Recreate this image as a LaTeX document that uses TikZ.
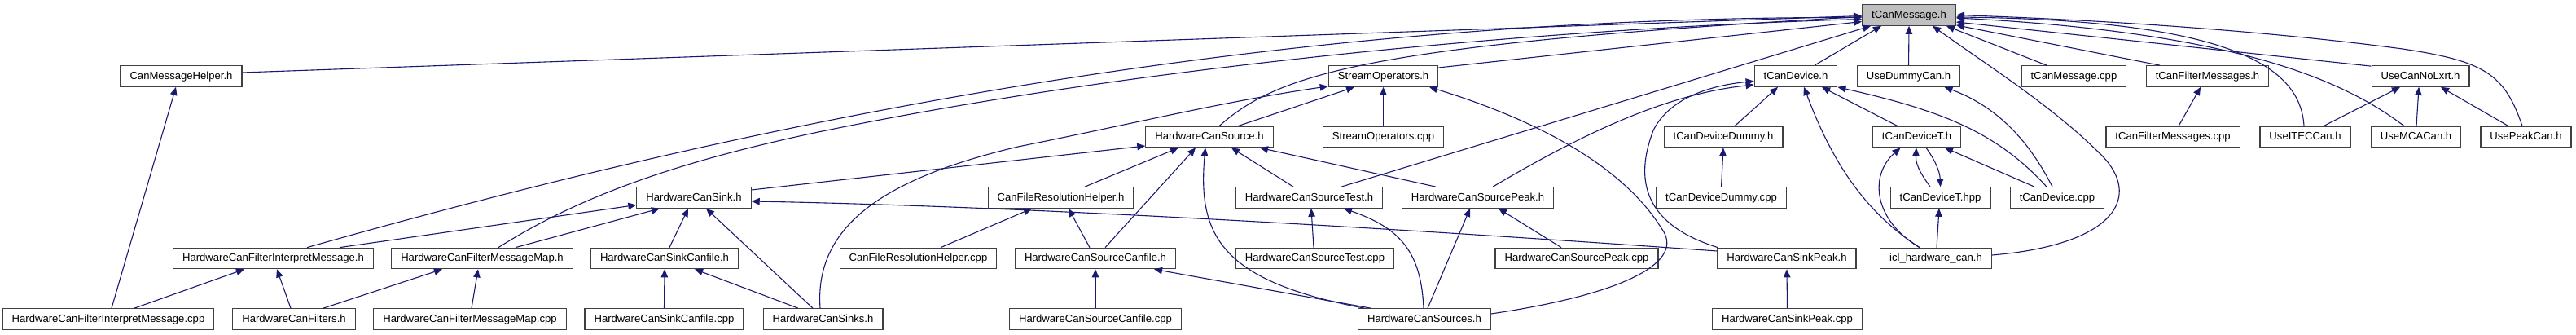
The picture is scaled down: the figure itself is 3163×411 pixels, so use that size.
\documentclass[tikz,border=0pt]{standalone}
\usepackage{fontspec}
\setmainfont{Liberation Sans}
\usetikzlibrary{arrows.meta}
\definecolor{edgeblue}{HTML}{191970}
\definecolor{rootgrey}{HTML}{BFBFBF}
\tikzset{
  file/.style={draw=black!75, line width=1.2pt, fill=white, inner xsep=11.5pt, inner ysep=0pt,
    minimum height=25.5pt, text height=10pt, text depth=2pt, font=\fontsize{13.1}{15}\selectfont},
  incl/.style={draw=edgeblue, line width=1.1pt, -{Triangle[length=10pt,width=8.5pt]}}
}
\begin{document}
\begin{tikzpicture}[x=1pt, y=-1pt]
\useasboundingbox (0,0) rectangle (3163,411);

\node[file, fill=rootgrey] (tcanmessage) at (2344,18.5) {tCanMessage.h};

\node[file] (canmsghelper) at (222.5,93.5) {CanMessageHelper.h};
\node[file] (streamops) at (1698.5,93.5) {StreamOperators.h};
\node[file] (tcandevice) at (2205,93.5) {tCanDevice.h};
\node[file] (usedummy) at (2343.5,93.5) {UseDummyCan.h};
\node[file] (tcanmsgcpp) at (2546.5,93.5) {tCanMessage.cpp};
\node[file] (filtermsgs) at (2710.5,93.5) {tCanFilterMessages.h};
\node[file] (usenolxrt) at (2972,93.5) {UseCanNoLxrt.h};

\node[file] (hwsource) at (1485,168) {HardwareCanSource.h};
\node[file] (streamopscpp) at (1698.5,168) {StreamOperators.cpp};
\node[file] (devdummy) at (2116,168) {tCanDeviceDummy.h};
\node[file] (devicet) at (2353.5,168) {tCanDeviceT.h};
\node[file] (filtermsgscpp) at (2668,168) {tCanFilterMessages.cpp};
\node[file] (useitec) at (2830.5,168) {UseITECCan.h};
\node[file] (usemca) at (2966.5,168) {UseMCACan.h};
\node[file] (usepeak) at (3101.5,168) {UsePeakCan.h};

\node[file] (hwsink) at (852,242.5) {HardwareCanSink.h};
\node[file] (fileres) at (1302.5,242.5) {CanFileResolutionHelper.h};
\node[file] (sourcetest) at (1607.5,242.5) {HardwareCanSourceTest.h};
\node[file] (sourcepeak) at (1814.5,242.5) {HardwareCanSourcePeak.h};
\node[file] (devdummycpp) at (2113.5,242.5) {tCanDeviceDummy.cpp};
\node[file] (devicethpp) at (2382.5,242.5) {tCanDeviceT.hpp};
\node[file] (devicecpp) at (2526,242.5) {tCanDevice.cpp};

\node[file] (filterinterp) at (335.5,317) {HardwareCanFilterInterpretMessage.h};
\node[file] (filtermap) at (592,317) {HardwareCanFilterMessageMap.h};
\node[file] (sinkcanfile) at (816,317) {HardwareCanSinkCanfile.h};
\node[file] (filerescpp) at (1127.5,317) {CanFileResolutionHelper.cpp};
\node[file] (sourcecanfile) at (1345,317) {HardwareCanSourceCanfile.h};
\node[file] (sourcetestcpp) at (1614.5,317) {HardwareCanSourceTest.cpp};
\node[file] (sourcepeakcpp) at (1936,317) {HardwareCanSourcePeak.cpp};
\node[file] (sinkpeak) at (2194,317) {HardwareCanSinkPeak.h};
\node[file] (iclcan) at (2377,317) {icl\_hardware\_can.h};

\node[file] (filterinterpcpp) at (133,391.5) {HardwareCanFilterInterpretMessage.cpp};
\node[file] (filters) at (361,391.5) {HardwareCanFilters.h};
\node[file] (filtermapcpp) at (577,391.5) {HardwareCanFilterMessageMap.cpp};
\node[file] (sinkcanfilecpp) at (815.5,391.5) {HardwareCanSinkCanfile.cpp};
\node[file] (sinks) at (1010.5,391.5) {HardwareCanSinks.h};
\node[file] (sourcecanfilecpp) at (1345,391.5) {HardwareCanSourceCanfile.cpp};
\node[file] (sources) at (1749,391.5) {HardwareCanSources.h};
\node[file] (sinkpeakcpp) at (2194.5,391.5) {HardwareCanSinkPeak.cpp};

% includes of tCanMessage.h
\draw[incl] ([yshift=4.5pt]canmsghelper.east) -- ([yshift=-1pt]tcanmessage.west);
\draw[incl] ([xshift=41.5pt]filterinterp.north) .. controls (850,170) and (1500,20) .. ([yshift=-3pt]tcanmessage.west);
\draw[incl] ([xshift=20pt]filtermap.north) .. controls (720,235) and (850,195) .. (1000,163) .. controls (1400,80) and (1900,35) .. ([yshift=-5pt]tcanmessage.west);
\draw[incl] ([xshift=12pt]hwsource.north) .. controls (1570,90) and (1680,55) .. ([yshift=-2pt]tcanmessage.west);
\draw[incl] ([yshift=10.5pt]streamops.east) -- ([yshift=-8pt]tcanmessage.west);
\draw[incl] ([xshift=39.5pt]sourcetest.north) -- ([xshift=-47pt]tcanmessage.south);
\draw[incl] ([xshift=23pt]tcandevice.north) -- ([xshift=-34pt]tcanmessage.south);
\draw[incl] (usedummy.north) -- (tcanmessage.south);
\draw[incl] ([xshift=-33.5pt]tcanmsgcpp.north) -- ([xshift=46pt]tcanmessage.south);
\draw[incl] ([xshift=-58.5pt]filtermsgs.north) -- ([yshift=1pt]tcanmessage.south east);
\draw[incl] ([yshift=-1pt]usenolxrt.north west) -- ([yshift=-8.5pt]tcanmessage.east);
\draw[incl] ([xshift=-1.5pt]useitec.north) .. controls (2825,90) and (2760,25) .. ([yshift=-2.5pt]tcanmessage.east);
\draw[incl] ([xshift=-14.5pt]usemca.north) .. controls (2880,100) and (2750,40) .. ([yshift=-3.5pt]tcanmessage.east);
\draw[incl] ([xshift=-4.5pt]usepeak.north) .. controls (3075,90) and (3050,75) .. (2950,60) .. controls (2800,40) and (2600,25) .. (tcanmessage.east);
\draw[incl] ([yshift=4pt]iclcan.east) .. controls (2600,300) and (2630,240) .. (2580,190) .. controls (2520,130) and (2440,80) .. ([xshift=29pt]tcanmessage.south);

% left part
\draw[incl] ([xshift=4pt]filterinterpcpp.north) -- ([xshift=-6.5pt]canmsghelper.south);
\draw[incl] ([xshift=32pt]filterinterpcpp.north) -- ([xshift=-35.5pt]filterinterp.south);
\draw[incl] ([xshift=-4pt]filters.north) -- ([xshift=4.5pt]filterinterp.south);
\draw[incl] ([xshift=36pt]filters.north) -- ([xshift=-49pt]filtermap.south);
\draw[incl] ([xshift=2pt]filtermapcpp.north) -- ([xshift=-5pt]filtermap.south);
\draw[incl] ([xshift=81.5pt]filterinterp.north) -- ([yshift=-9pt]hwsink.west);
\draw[incl] ([xshift=41pt]filtermap.north) -- ([xshift=-42pt]hwsink.south);
\draw[incl] ([xshift=6pt]sinkcanfile.north) -- ([xshift=-7pt]hwsink.south);
\draw[incl] (sinkcanfilecpp.north) -- (sinkcanfile.south);
\draw[incl] ([xshift=-30.5pt]sinks.north) -- ([xshift=37pt]sinkcanfile.south);
\draw[incl] ([xshift=-12.5pt]sinks.north) -- ([xshift=15pt]hwsink.south);
\draw[incl] ([xshift=-3.5pt]sinks.north) .. controls (1000,280) and (1080,220) .. (1250,180) .. controls (1400,150) and (1500,125) .. ([yshift=1pt]streamops.south west);
\draw[incl] ([yshift=9.5pt]hwsink.east) -- ([yshift=-11pt]hwsource.west);
\draw[incl] ([yshift=9pt]sinkpeak.west) .. controls (1600,272) and (1200,252) .. ([yshift=-4.5pt]hwsink.east);

% middle part
\draw[incl] ([xshift=29.5pt]fileres.north) -- ([xshift=-38pt]hwsource.south);
\draw[incl] ([xshift=27.5pt]filerescpp.north) -- ([xshift=-35.5pt]fileres.south);
\draw[incl] ([xshift=-7pt]sourcecanfile.north) -- ([xshift=9.5pt]fileres.south);
\draw[incl] ([xshift=12pt]sourcecanfile.north) -- ([xshift=-17pt]hwsource.south);
\draw[incl] (sourcecanfilecpp.north) -- (sourcecanfile.south);
\draw[incl] ([xshift=-66pt]sources.north) -- ([xshift=72pt]sourcecanfile.south);
\draw[incl] ([xshift=-74pt]sources.north) .. controls (1500,345) and (1470,290) .. ([xshift=-5pt]hwsource.south);
\draw[incl] ([xshift=-19.5pt]sourcetest.north) -- ([xshift=27pt]hwsource.south);
\draw[incl] ([xshift=-51.5pt]sourcepeak.north) -- ([xshift=62pt]hwsource.south);
\draw[incl] ([xshift=-1.5pt]sourcetestcpp.north) -- ([xshift=2.5pt]sourcetest.south);
\draw[incl] ([xshift=-1pt]sources.north) .. controls (1745,310) and (1720,280) .. ([xshift=42.5pt]sourcetest.south);
\draw[incl] ([xshift=4pt]sources.north) -- ([xshift=-9.5pt]sourcepeak.south);
\draw[incl] ([xshift=-19pt]sourcepeakcpp.north) -- ([xshift=25.5pt]sourcepeak.south);
\draw[incl] ([xshift=18.5pt]sourcepeak.north) .. controls (1950,160) and (2050,115) .. ([yshift=-10.5pt]tcandevice.west);
\draw[incl] ([xshift=35pt]hwsource.north) -- ([xshift=-35.5pt]streamops.south);
\draw[incl] (streamopscpp.north) -- (streamops.south);
\draw[incl] ([yshift=6.5pt]sources.east) .. controls (2000,360) and (2070,320) .. (2040,280) .. controls (1990,200) and (1880,145) .. ([xshift=56.5pt]streamops.south);

% right part
\draw[incl] ([xshift=14pt]devdummy.north) -- ([xshift=-22pt]tcandevice.south);
\draw[incl] (devdummycpp.north) -- (devdummy.south);
\draw[incl] ([xshift=1pt]sinkpeak.north west) .. controls (2000,270) and (2015,200) .. (2030,160) .. controls (2050,120) and (2100,105) .. ([yshift=-6pt]tcandevice.west);
\draw[incl] (sinkpeakcpp.north) -- (sinkpeak.south);
\draw[incl] ([xshift=-20pt]iclcan.north) .. controls (2290,260) and (2250,200) .. ([xshift=10pt]tcandevice.south);
\draw[incl] ([xshift=-23.5pt]devicet.north) -- ([xshift=32pt]tcandevice.south);
\draw[incl] ([xshift=-13pt]devicecpp.north) .. controls (2450,160) and (2380,135) .. (tcandevice.south east);
\draw[incl] ([xshift=-6pt]devicecpp.north) .. controls (2490,170) and (2450,130) .. ([xshift=44pt]usedummy.south);
\draw[incl] ([xshift=-28pt]devicecpp.north) -- ([xshift=34.5pt]devicet.south);
\draw[incl] ([xshift=-12.5pt]devicethpp.north) .. controls (2356,210) and (2352,200) .. ([xshift=-0.5pt]devicet.south);
\draw[incl] ([xshift=11.5pt]devicet.south) .. controls (2375,195) and (2382,210) .. (devicethpp.north);
\draw[incl] ([xshift=-20pt]iclcan.north) .. controls (2300,270) and (2295,215) .. ([xshift=-20pt]devicet.south);
\draw[incl] ([xshift=1pt]iclcan.north) -- ([xshift=-1.5pt]devicethpp.south);
\draw[incl] ([xshift=7pt]filtermsgscpp.north) -- ([xshift=-8.5pt]filtermsgs.south);
\draw[incl] ([xshift=22.5pt]useitec.north) -- ([xshift=-25pt]usenolxrt.south);
\draw[incl] ([xshift=0.5pt]usemca.north) -- ([xshift=-2pt]usenolxrt.south);
\draw[incl] ([xshift=-21.5pt]usepeak.north) -- ([xshift=25pt]usenolxrt.south);
\end{tikzpicture}
\end{document}
